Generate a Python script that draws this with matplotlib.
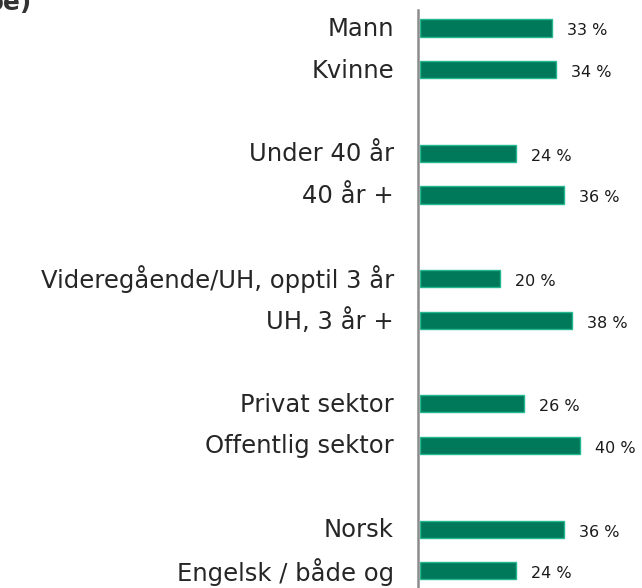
import matplotlib.pyplot as plt

labels = ['Mann', 'Kvinne', 'Under 40 år', '40 år +', 'Videregående/UH, opptil 3 år',
          'UH, 3 år +', 'Privat sektor', 'Offentlig sektor', 'Norsk', 'Engelsk / både og']
values = [33, 34, 24, 36, 20, 38, 26, 40, 36, 24]
positions = [0, 1, 3, 4, 6, 7, 9, 10, 12, 13]

plt.rcParams['font.family'] = ['DejaVu Sans']

fig = plt.figure(figsize=(6.42, 5.88), dpi=100)
ax = fig.add_axes([418 / 642, 0, 224 / 642, 578 / 588])

ax.barh(positions, values, height=0.41, color='#00785A', edgecolor='#25B890', linewidth=1)

for p, v in zip(positions, values):
  ax.text(v + 3.7, p + 0.07, f'{v} %', va='center', ha='left', fontsize=11.5, color='#1a1a1a')

for p, lab in zip(positions, labels):
  ax.text(-6.5, p + 0.02, lab, va='center', ha='right', fontsize=17.5, color='#262626')

ax.set_xlim(-0.5, 55.5)
ax.set_ylim(13.41, -0.43)
ax.set_xticks([])
ax.set_yticks([])
for s in ['top', 'right', 'bottom']:
  ax.spines[s].set_visible(False)
ax.spines['left'].set_color('#8c8c8c')
ax.spines['left'].set_linewidth(1.8)

fig.text(32 / 642, 1 - 10 / 588, 'be)', fontsize=18, fontweight='bold', color='#333333', va='baseline', ha='right')

fig.savefig('out.png', dpi=100)
